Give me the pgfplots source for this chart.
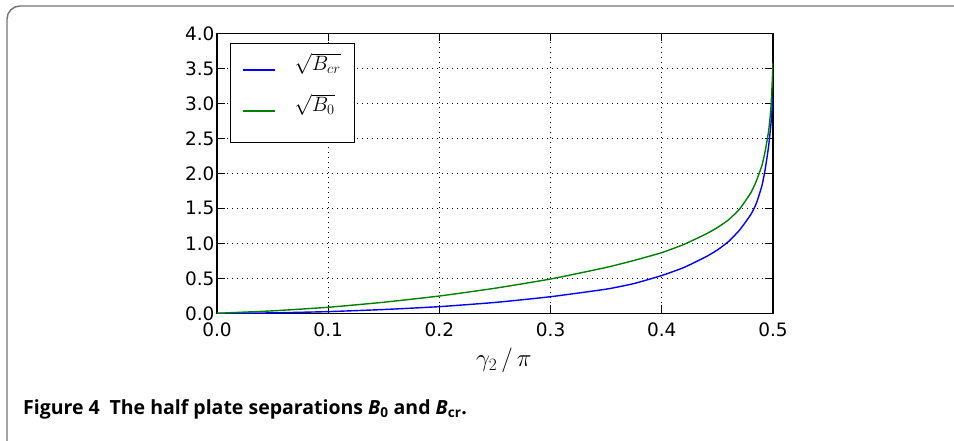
\documentclass[border=0pt]{standalone}
\usepackage{fontspec}
\usepackage{pgfplots}
\pgfplotsset{compat=1.18}
\newfontfamily\dejavu{DejaVu Sans}
\newfontfamily\capfont{Open Sans}
\definecolor{mplgreen}{RGB}{0,128,0}
\definecolor{mplblue}{RGB}{0,0,255}
\begin{document}
\begin{tikzpicture}[x=1pt,y=1pt]
\useasboundingbox (0,0) rectangle (954,441);
\draw[black!55, line width=1.4pt, rounded corners=13pt] (7,-30) -- (7,435) -- (990,435);
\begin{axis}[
  at={(217pt,127.7pt)}, anchor=south west,
  scale only axis, width=556pt, height=280pt,
  xmin=0, xmax=0.5, ymin=0, ymax=4.0,
  xtick={0,0.1,...,0.5}, ytick={0,0.5,...,4.0},
  /pgf/number format/.cd, fixed, fixed zerofill, precision=1, assume math mode=true, /pgfplots/.cd,
  tick label style={font=\dejavu\fontsize{18.5}{18.5}\selectfont, black},
  xticklabel style={yshift=-6pt},
  yticklabel style={xshift=1pt},
  tick align=inside, major tick length=8pt,
  every tick/.style={black, line width=1pt},
  axis line style={black, line width=1.3pt},
  grid=major,
  major grid style={black, line width=0.9pt, dash pattern=on 1pt off 4pt},
  xlabel={$\gamma_2\,/\,\pi$},
  xlabel style={font=\fontsize{23}{23}\selectfont, at={(axis description cs:0.516,-0.168)}, anchor=center},
  legend style={at={(rel axis cs:0.0234,0.966)}, anchor=north west, draw=black, line width=1.2pt, fill=white,
    inner xsep=11pt, inner ysep=12pt, font=\fontsize{22}{22}\selectfont, row sep=7pt,
    nodes={inner sep=3pt, text height=12pt, text depth=16pt, anchor=west},
    /tikz/every odd column/.append style={column sep=16pt}},
  legend image code/.code={\draw[#1] (0pt,2.5pt) -- (32pt,2.5pt);},
  legend cell align=left,
]
\addlegendimage{mplblue, line width=1.9pt}
\addlegendentry{$\sqrt{B_{cr}}$}
\addlegendimage{mplgreen, line width=1.9pt}
\addlegendentry{$\sqrt{B_0}$}
\addplot[mplblue, line width=1.4pt, smooth, tension=0.3, forget plot] coordinates {
(0.00,0.000) (0.05,0.006) (0.10,0.024) (0.15,0.054) (0.20,0.095) (0.25,0.155) (0.30,0.237)
(0.35,0.345) (0.375,0.425) (0.40,0.540) (0.42,0.655) (0.44,0.810) (0.45,0.905) (0.46,1.025)
(0.47,1.190) (0.48,1.410) (0.485,1.570) (0.49,1.820) (0.493,2.060) (0.496,2.380) (0.498,2.680)
(0.499,2.880) (0.5,3.100)};
\addplot[mplgreen, line width=1.4pt, smooth, tension=0.3, forget plot] coordinates {
(0.00,0.000) (0.05,0.035) (0.10,0.086) (0.15,0.158) (0.20,0.247) (0.25,0.358) (0.30,0.490)
(0.35,0.655) (0.375,0.755) (0.40,0.867) (0.42,0.985) (0.44,1.135) (0.45,1.225) (0.46,1.335)
(0.47,1.490) (0.48,1.720) (0.485,1.890) (0.49,2.110) (0.493,2.320) (0.496,2.600) (0.498,2.900)
(0.499,3.200) (0.4997,3.450) (0.5,3.580)};
\end{axis}
\node[anchor=base west, inner sep=0pt, font=\capfont\bfseries\fontsize{19.5}{19.5}\selectfont] at (23,26.7)
  {Figure 4\hspace{0.5em}The half plate separations {\itshape B}\textsubscript{0} and {\itshape B}\textsubscript{cr}.};
\end{tikzpicture}
\end{document}
